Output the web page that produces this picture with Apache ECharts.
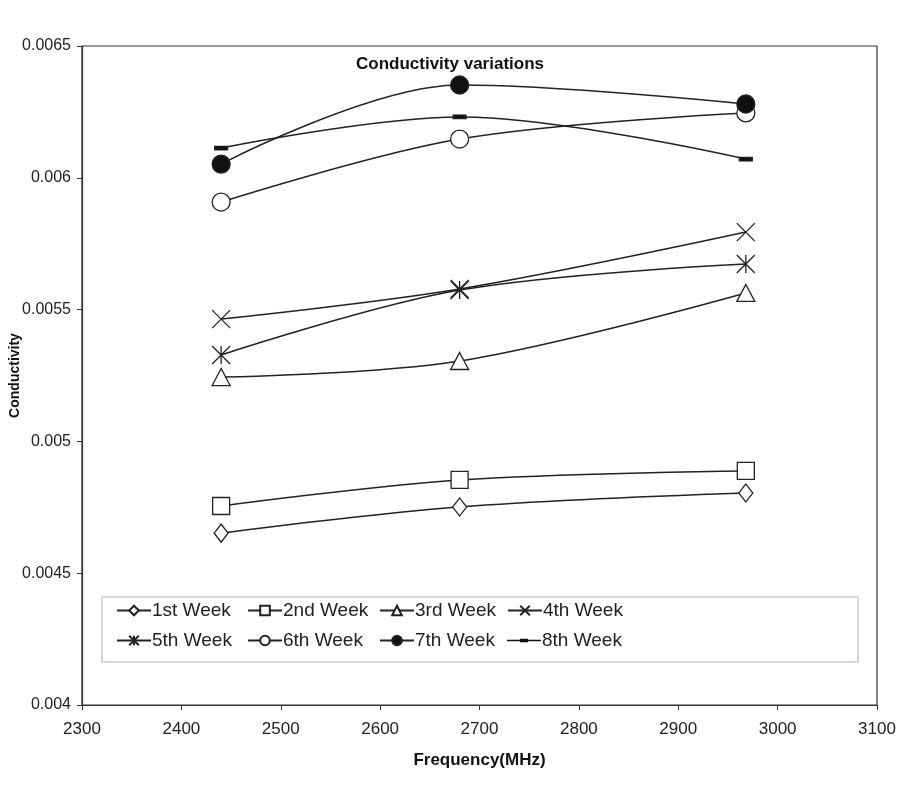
<!DOCTYPE html>
<html>
<head>
<meta charset="utf-8">
<script src="https://cdn.jsdelivr.net/npm/echarts@6/dist/echarts.min.js"></script>
<style>html,body{margin:0;padding:0;background:#fff;}#c{width:900px;height:800px;}</style>
</head>
<body>
<div id="c"></div>
<script>
const frequencies = [2440, 2680, 2968];
const seriesNames = ['1st Week','2nd Week','3rd Week','4th Week','5th Week','6th Week','7th Week','8th Week'];
const week1 = [0.004652, 0.004751, 0.004804];
const week2 = [0.004755, 0.004854, 0.004888];
const week3 = [0.005244, 0.005305, 0.005563];
const week4 = [0.005464, 0.005578, 0.005794];
const week5 = [0.005328, 0.005574, 0.005673];
const week6 = [0.005908, 0.006147, 0.006246];
const week7 = [0.006052, 0.006352, 0.006280];
const week8 = [0.006113, 0.006231, 0.006071];
const yTicks = [0.004, 0.0045, 0.005, 0.0055, 0.006, 0.0065];

const weeks = [week1, week2, week3, week4, week5, week6, week7, week8];
const ink = '#222';
const symbols = [
  {symbol:'diamond', size:[14,18], fill:'#fff'},
  {symbol:'rect', size:17, fill:'#fff'},
  {symbol:'triangle', size:[18,17], fill:'#fff'},
  {symbol:'path://M0,0L10,10M10,0L0,10', size:18, fill:'none'},
  {symbol:'path://M0,0L10,10M10,0L0,10M5,0L5,10', size:18, fill:'none'},
  {symbol:'circle', size:18, fill:'#fff'},
  {symbol:'circle', size:18, fill:'#111'},
  {symbol:'rect', size:[12,4], fill:'#111'}
];

const series = weeks.map((w, i) => ({
  name: seriesNames[i],
  type: 'line',
  data: frequencies.map((f, j) => [f, w[j]]),
  smooth: 0.35,
  symbol: symbols[i].symbol,
  symbolSize: symbols[i].size,
  symbolKeepAspect: true,
  showAllSymbol: true,
  lineStyle: {color: ink, width: 1.5},
  itemStyle: {color: symbols[i].fill, borderColor: ink, borderWidth: 1.3},
  emphasis: {disabled: true},
  z: 3
}));

const colLeft = [116, 247, 379, 507];
const rowTop = [601, 631];
const legends = seriesNames.map((n, i) => {
  const item = {name: n};
  if (i === 7) {
    item.icon = 'path://M0,0L0.01,0L0.01,0.01L0,0.01Z M0,5.3L34,5.3L34,6.7L0,6.7Z M13,4.3L21,4.3L21,7.7L13,7.7Z M33.99,11.99L34,11.99L34,12L33.99,12Z';
    item.itemStyle = {color: '#111', borderWidth: 0};
  }
  return {
    data: [item],
    left: colLeft[i % 4],
    top: rowTop[Math.floor(i / 4)],
    padding: 0,
    itemWidth: 34,
    itemHeight: 12,
    itemGap: 4,
    textStyle: {fontFamily: 'Liberation Sans', fontSize: 19, color: '#222', padding: [0,0,0,-4]},
    selectedMode: false
  };
});

const chart = echarts.init(document.getElementById('c'));
chart.setOption({
  animation: false,
  backgroundColor: '#fff',
  title: {
    text: 'Conductivity variations',
    left: 445, top: 51, textAlign: 'center',
    textStyle: {fontFamily: 'Liberation Sans', fontSize: 17, fontWeight: 'bold', color: '#111'}
  },
  grid: {left: 82, right: 23, top: 46, bottom: 95, show: true, borderColor: '#333', borderWidth: 1.2,
    backgroundColor: 'transparent', containLabel: false, outerBoundsMode: 'none'},
  legend: legends,
  graphic: [{
    type: 'rect', shape: {x: 102, y: 597, width: 756, height: 65},
    style: {fill: 'transparent', stroke: '#c8cccc', lineWidth: 1.5}, z: 1
  }],
  xAxis: {
    type: 'value', min: 2300, max: 3100, interval: 100,
    name: 'Frequency(MHz)', nameLocation: 'middle', nameGap: 47, nameMoveOverlap: false,
    nameTextStyle: {fontFamily: 'Liberation Sans', fontSize: 17, fontWeight: 'bold', color: '#111'},
    axisLine: {lineStyle: {color: '#333', width: 1.2}},
    axisTick: {show: true, length: 5, lineStyle: {color: '#333'}},
    axisLabel: {fontFamily: 'Liberation Sans', fontSize: 17, color: '#222', margin: 16,
      formatter: v => String(v)},
    splitLine: {show: false}
  },
  yAxis: {
    type: 'value', min: yTicks[0], max: yTicks[yTicks.length - 1], interval: 0.0005,
    name: 'Conductivity', nameLocation: 'middle', nameGap: 60, nameRotate: 90, nameMoveOverlap: false,
    nameTextStyle: {fontFamily: 'Liberation Sans', fontSize: 14, fontWeight: 'bold', color: '#111'},
    axisLine: {show: true, lineStyle: {color: '#333', width: 1.2}},
    axisTick: {show: true, length: 5, lineStyle: {color: '#333'}},
    axisLabel: {fontFamily: 'Liberation Sans', fontSize: 16, color: '#222', margin: 11,
      formatter: v => String(+v.toFixed(5))},
    splitLine: {show: false}
  },
  series: series
});
</script>
</body>
</html>
